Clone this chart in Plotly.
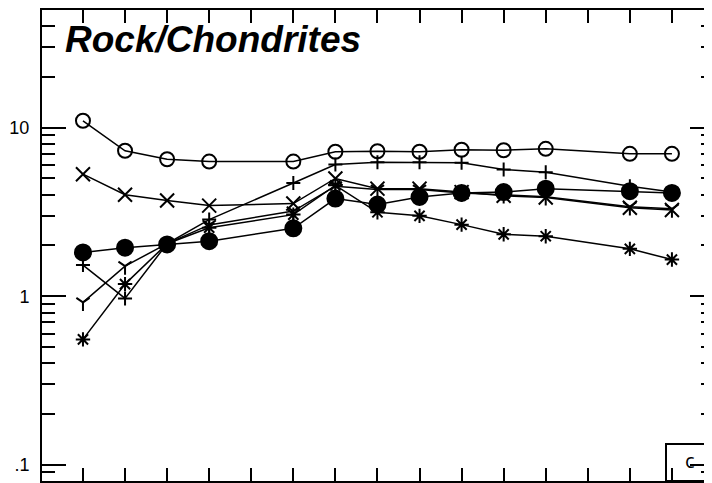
import plotly.graph_objects as go

elements = ["La", "Ce", "Pr", "Nd", "Pm", "Sm", "Eu", "Gd", "Tb", "Dy", "Ho", "Er", "Tm", "Yb", "Lu"]
x_pos = list(range(1, 16))

open_circle = [11.0, 7.3, 6.5, 6.3, None, 6.3, 7.2, 7.25, 7.2, 7.4, 7.35, 7.5, None, 7.0, 7.0]
cross_x = [5.3, 4.0, 3.7, 3.45, None, 3.55, 5.0, 4.35, 4.35, 4.15, 3.95, 3.85, None, 3.35, 3.25]
plus = [1.53, 0.97, 2.05, 2.85, None, 4.7, 6.05, 6.25, 6.25, 6.2, 5.65, 5.45, None, 4.5, 4.15]
tri_y = [0.92, 1.51, 2.05, 2.65, None, 3.2, 4.5, 4.3, 4.3, 4.1, 4.0, 3.9, None, 3.4, 3.3]
asterisk = [0.554, 1.18, 2.05, 2.55, None, 3.05, 4.55, 3.15, 3.0, 2.66, 2.33, 2.27, None, 1.91, 1.65]
filled_circle = [1.82, 1.94, 2.03, 2.12, None, 2.53, 3.8, 3.5, 3.88, 4.1, 4.15, 4.35, None, 4.2, 4.1]

y_major = [0.1, 1, 10]
y_major_text = [".1", "1", "10"]
y_minor = [0.08, 0.09, 0.2, 0.3, 0.4, 0.5, 0.6, 0.7, 0.8, 0.9,
           2, 3, 4, 5, 6, 7, 8, 9, 20, 30, 40]

series = [
    (open_circle, "circle-open", 14),
    (cross_x, "x-thin-open", 14),
    (plus, "cross-thin-open", 10),
    (tri_y, "y-down-open", 11),
    (asterisk, "asterisk-open", 12),
    (filled_circle, "circle", 16),
]

fig = go.Figure()
for vals, sym, sz in series:
    fig.add_trace(go.Scatter(
        x=x_pos, y=vals, mode="lines+markers", connectgaps=True,
        line=dict(color="black", width=1.5),
        marker=dict(symbol=sym, size=sz, color="black",
                    line=dict(color="black", width=2)),
        showlegend=False, hoverinfo="skip",
    ))

# page has an 8px body margin: figure coords = page coords - 8
fig.update_layout(
    width=712, height=483,
    margin=dict(l=34, r=6, t=2, b=10, autoexpand=False),
    plot_bgcolor="white", paper_bgcolor="white",
    xaxis=dict(
        range=[0.026, 16.0], showgrid=False, zeroline=False, automargin=False,
        showline=True, linecolor="black", linewidth=2, mirror="ticks",
        tickmode="array", tickvals=x_pos, ticktext=[""] * 15,
        ticks="inside", ticklen=13, tickwidth=2, tickcolor="black",
        showticklabels=False,
    ),
    yaxis=dict(
        type="log", range=[-1.097, 1.699], showgrid=False, zeroline=False,
        automargin=False,
        showline=True, linecolor="black", linewidth=2, mirror="ticks",
        tickmode="array", tickvals=y_major, ticktext=y_major_text,
        ticks="inside", ticklen=24, tickwidth=2, tickcolor="black",
        ticklabelstandoff=7,
        tickfont=dict(family="Liberation Sans, Arial", size=18, color="black"),
        minor=dict(tickmode="array", tickvals=y_minor, ticks="inside",
                   ticklen=13, tickwidth=2, tickcolor="black", showgrid=False),
    ),
    annotations=[
        dict(text="<b><i>Rock/Chondrites</i></b>", xref="paper", yref="paper",
             x=(55 - 34) / 672, y=(481 - 40) / 471, xanchor="left", yanchor="middle",
             showarrow=False,
             font=dict(family="Liberation Sans, Arial", size=37, color="black")),
        dict(text="c", xref="paper", yref="paper",
             x=(682 - 34) / 672, y=(481 - 460) / 471, xanchor="center", yanchor="middle",
             showarrow=False,
             font=dict(family="Open Sans", size=20, color="black")),
    ],
    shapes=[
        dict(type="rect", xref="paper", yref="paper",
             x0=(658 - 34) / 672, x1=1.02, y0=0, y1=(481 - 444) / 471,
             line=dict(color="black", width=2), fillcolor="rgba(0,0,0,0)"),
    ],
)

fig.write_html("out.html")
